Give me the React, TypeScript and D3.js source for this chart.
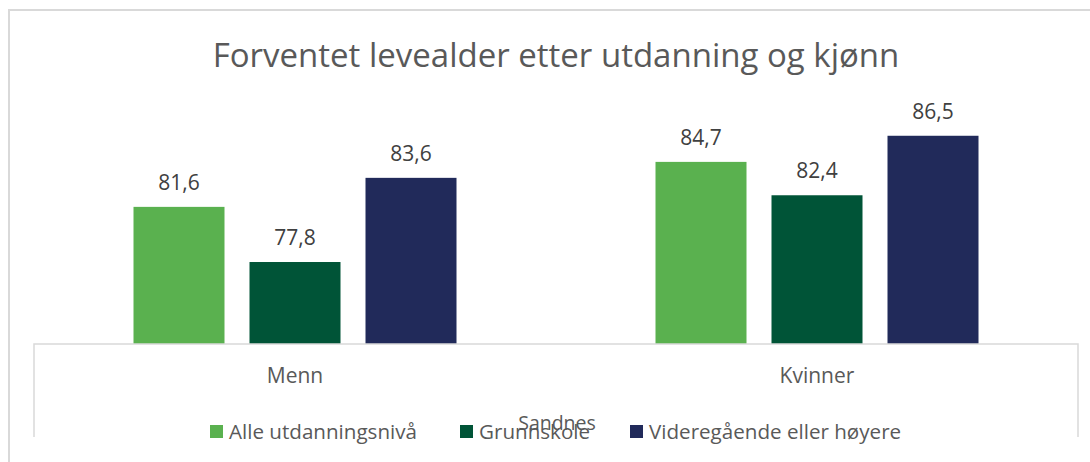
import React from "react";
import * as d3 from "d3";

const categories = ["Menn", "Kvinner"];
const seriesNames = ["Alle utdanningsnivå", "Grunnskole", "Videregående eller høyere"];
const alleValues = [81.6, 84.7];
const grunnskoleValues = [77.8, 82.4];
const videregaendeValues = [83.6, 86.5];
const seriesColors = ["#5AB14F", "#005437", "#212A5A"];
const title = "Forventet levealder etter utdanning og kjønn";
const axisTitle = "Sandnes";

const W = 1090;
const H = 462;
const FONT = "'Open Sans', 'Noto Sans', sans-serif";

export default function App() {
  const seriesValues = [alleValues, grunnskoleValues, videregaendeValues];
  const plotLeft = 34;
  const plotRight = 1078;
  const baseY = 344;

  const x0 = d3.scaleBand<string>().domain(categories).range([plotLeft, plotRight]).paddingInner(0).paddingOuter(0);
  const groupWidth = 116 * 3 - 25;
  const x1 = d3
    .scaleBand<string>()
    .domain(seriesNames)
    .range([0, groupWidth])
    .paddingInner(25 / 116)
    .paddingOuter(0);
  const y = d3.scaleLinear().domain([72.15, 88]).range([baseY, 114]);

  const legendX = [210, 460, 630];
  const fmt = (v: number) => v.toFixed(1).replace(".", ",");

  return (
    <svg
      width={W}
      height={H}
      style={{ position: "absolute", left: 0, top: 0, background: "#fff" }}
      fontFamily={FONT}
    >
      <rect x={9} y={10} width={W + 20} height={H + 20} fill="#fff" stroke="#D9D9D9" strokeWidth={2} />
      <text x={556} y={67} textAnchor="middle" fontSize={33} fill="#595959">
        {title}
      </text>
      {categories.map((c, ci) => {
        const gx = (x0(c) as number) + x0.bandwidth() / 2 - groupWidth / 2;
        return (
          <g key={c}>
            {seriesNames.map((s, si) => {
              const v = seriesValues[si][ci];
              const bx = gx + (x1(s) as number);
              return (
                <g key={s}>
                  <rect x={bx} y={y(v)} width={x1.bandwidth()} height={baseY - y(v)} fill={seriesColors[si]} />
                  <text
                    x={bx + x1.bandwidth() / 2}
                    y={y(v) - 17}
                    textAnchor="middle"
                    fontSize={21}
                    fill="#404040"
                  >
                    {fmt(v)}
                  </text>
                </g>
              );
            })}
            <text x={(x0(c) as number) + x0.bandwidth() / 2} y={383} textAnchor="middle" fontSize={21} fill="#595959">
              {c}
            </text>
          </g>
        );
      })}
      <path
        d={`M${plotLeft},437 V${baseY} H${plotRight} V437`}
        fill="none"
        stroke="#D9D9D9"
        strokeWidth={1.5}
      />
      <text x={557} y={430} textAnchor="middle" fontSize={19.5} fill="#595959">
        {axisTitle}
      </text>
      {seriesNames.map((s, si) => (
        <g key={s}>
          <rect x={legendX[si]} y={425} width={13} height={13} fill={seriesColors[si]} />
          <text x={legendX[si] + 19} y={439} fontSize={20.6} fill="#595959">
            {s}
          </text>
        </g>
      ))}
    </svg>
  );
}
